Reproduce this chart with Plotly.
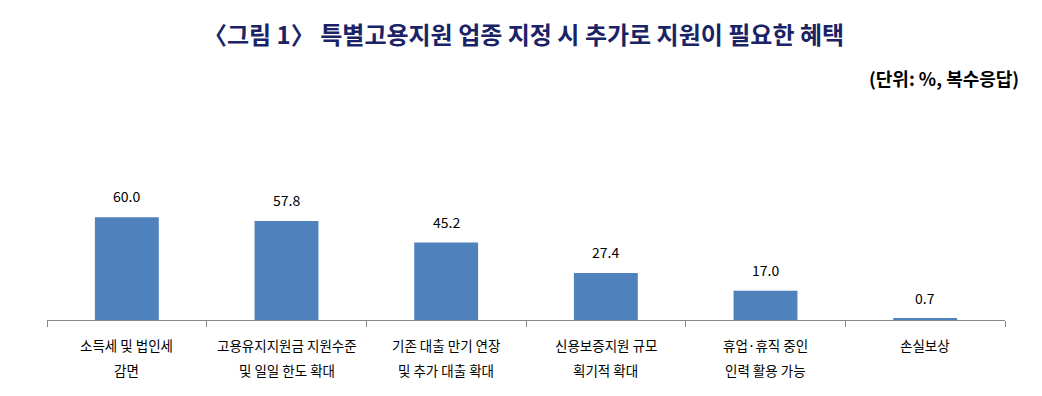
import plotly.graph_objects as go

categories = ["소득세 및 법인세", "고용유지지원금 지원수준", "기존 대출 만기 연장", "신용보증지원 규모", "휴업·휴직 중인", "손실보상"]
categories_line2 = ["감면", "및 일일 한도 확대", "및 추가 대출 확대", "획기적 확대", "인력 활용 가능", ""]
values = [60.0, 57.8, 45.2, 27.4, 17.0, 0.7]
value_labels = ["60.0", "57.8", "45.2", "27.4", "17.0", "0.7"]

title_text = "〈그림 1〉 특별고용지원 업종 지정 시 추가로 지원이 필요한 혜택"
unit_text = "(단위: %, 복수응답)"

FONT = "Noto Sans CJK KR"
BAR = "#4f81bd"

# page body has an 8px margin; compensate
OFF = 8
W, H = 1042, 396
ml, mr, mt, mb = 47 - OFF, 37 + OFF, 200 - OFF, 76 + OFF
pw, ph = W - ml - mr, H - mt - mb


def px_to_paper_x(px):
    return (px - OFF - ml) / pw


def px_to_paper_y(py):
    return (H - mb - (py - OFF)) / ph


xs = list(range(len(values)))

fig = go.Figure()
fig.add_trace(go.Bar(x=xs, y=values, marker=dict(color=BAR, line=dict(width=0)),
                     width=0.4, hoverinfo="skip"))

annotations = []
for i, (v, t) in enumerate(zip(values, value_labels)):
    annotations.append(dict(x=i, y=v, xref="x", yref="y", text=t, showarrow=False,
                            yanchor="bottom", yshift=9,
                            font=dict(family=FONT, size=14, color="#000000")))
for i, (l1, l2) in enumerate(zip(categories, categories_line2)):
    annotations.append(dict(x=i, y=0, xref="x", yref="y", text=l1, showarrow=False,
                            yanchor="middle", yshift=-25,
                            font=dict(family=FONT, size=13.5, color="#000000")))
    if l2:
        annotations.append(dict(x=i, y=0, xref="x", yref="y", text=l2, showarrow=False,
                                yanchor="middle", yshift=-50,
                                font=dict(family=FONT, size=13.5, color="#000000")))

annotations.append(dict(x=px_to_paper_x(W / 2 + 2), y=px_to_paper_y(33), xref="paper", yref="paper",
                        text="<b>" + title_text + "</b>", showarrow=False,
                        xanchor="center", yanchor="middle",
                        font=dict(family=FONT, size=24, color="#1a2366")))
annotations.append(dict(x=px_to_paper_x(1021), y=px_to_paper_y(78), xref="paper", yref="paper",
                        text="<b>" + unit_text + "</b>", showarrow=False,
                        xanchor="right", yanchor="middle",
                        font=dict(family=FONT, size=18, color="#000000")))

fig.update_layout(
    width=W, height=H,
    margin=dict(l=ml, r=mr, t=mt, b=mb),
    paper_bgcolor="white", plot_bgcolor="white",
    showlegend=False,
    annotations=annotations,
    xaxis=dict(range=[-0.5, len(values) - 0.5], showgrid=False, zeroline=False,
               showline=True, linecolor="#888888", linewidth=1,
               tickvals=[i - 0.5 for i in range(len(values) + 1)], ticktext=[""] * (len(values) + 1),
               ticks="outside", ticklen=6, tickcolor="#888888", tickwidth=1),
    yaxis=dict(range=[0, 70], visible=False, showgrid=False, zeroline=False),
)

fig.write_html("out.html")
